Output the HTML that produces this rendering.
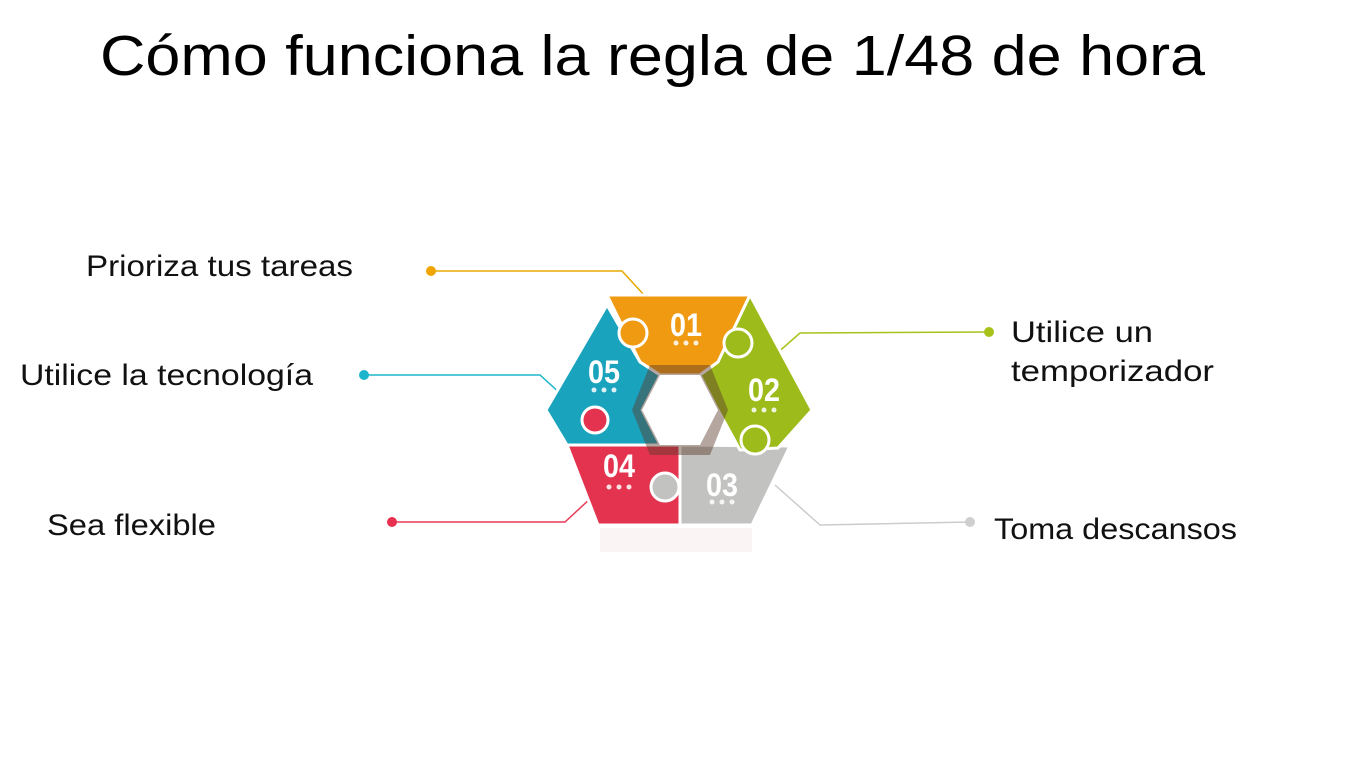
<!DOCTYPE html>
<html><head><meta charset="utf-8"><style>html,body{margin:0;padding:0;background:#fff}svg{display:block}</style></head>
<body>
<svg width="1350" height="759" viewBox="0 0 1350 759" xmlns="http://www.w3.org/2000/svg">
<rect width="1350" height="759" fill="#fff"/>
<text x="100" y="75" font-family="Liberation Sans, Arial, sans-serif" font-size="57" fill="#000" textLength="1105" lengthAdjust="spacingAndGlyphs">Cómo funciona la regla de 1/48 de hora</text>
<g font-family="Liberation Sans, Arial, sans-serif" font-size="30" fill="#111">
<text x="86" y="276" textLength="267" lengthAdjust="spacingAndGlyphs">Prioriza tus tareas</text>
<text x="20" y="385" textLength="293" lengthAdjust="spacingAndGlyphs">Utilice la tecnología</text>
<text x="47" y="535" textLength="169" lengthAdjust="spacingAndGlyphs">Sea flexible</text>
<text x="1011" y="342" textLength="142" lengthAdjust="spacingAndGlyphs">Utilice un</text>
<text x="1011" y="381" textLength="203" lengthAdjust="spacingAndGlyphs">temporizador</text>
<text x="994" y="539" textLength="243" lengthAdjust="spacingAndGlyphs">Toma descansos</text>
</g>
<g fill="none" stroke-width="1.5">
<polyline points="431,271 622,271 645,296" stroke="#e8a800"/>
<polyline points="364,375 540,375 562,395" stroke="#1eb6cc"/>
<polyline points="392,522 565,522 592,497" stroke="#e83a55"/>
<polyline points="989,332 800,333 775,355" stroke="#a8c21a"/>
<polyline points="970,522 820,525 775,485" stroke="#cccccc"/>
</g>
<circle cx="431" cy="271" r="5" fill="#f0a500"/>
<circle cx="364" cy="375" r="5" fill="#1cb5cc"/>
<circle cx="392" cy="522" r="5" fill="#e8304f"/>
<circle cx="989" cy="332" r="5" fill="#a8c21a"/>
<circle cx="970" cy="522" r="5" fill="#cfcfcf"/>
<rect x="600" y="528" width="152" height="24" fill="#f9ecee" opacity="0.6"/>
<g stroke="#fff" stroke-width="3" stroke-linejoin="round">
<polygon points="680,445 790,446 752,525 680,525" fill="#c2c2c0"/>
<polygon points="607,295 750,295 718,362 700,375 660,375 640,362" fill="#f09a12"/>
<polygon points="750,295 812,410 778,448 740,450 718,410 700,375 718,362" fill="#9dbb1a"/>
<polygon points="567,445 642,440 660,445 680,445 680,525 598,525" fill="#e3334f"/>
<polygon points="607,305 640,362 660,375 642,410 660,445 567,445 546,410" fill="#1aa3bd"/>
<circle cx="633" cy="333" r="14" fill="#f09a12"/>
<circle cx="738" cy="343" r="14" fill="#9dbb1a"/>
<circle cx="755" cy="440" r="14" fill="#9dbb1a"/>
<circle cx="595" cy="420" r="13" fill="#e3334f"/>
<circle cx="665" cy="487" r="14" fill="#c2c2c0"/>
</g>
<polygon points="650,365 710,365 728,410 710,455 650,455 632,410" fill="#5a3a2a" opacity="0.45"/>
<polygon points="660,375 700,375 718,410 700,445 660,445 642,410" fill="#fff"/>
<g font-family="Liberation Sans, Arial, sans-serif" font-weight="bold" font-size="32" fill="#fff" text-anchor="middle">
<text x="686" y="336" textLength="32" lengthAdjust="spacingAndGlyphs">01</text>
<text x="604" y="383" textLength="32" lengthAdjust="spacingAndGlyphs">05</text>
<text x="764" y="401" textLength="32" lengthAdjust="spacingAndGlyphs">02</text>
<text x="619" y="477" textLength="32" lengthAdjust="spacingAndGlyphs">04</text>
<text x="722" y="496" textLength="32" lengthAdjust="spacingAndGlyphs">03</text>
</g>
<g fill="#fff" opacity="0.85">
<circle cx="676" cy="343" r="2.5"/><circle cx="686" cy="343" r="2.5"/><circle cx="696" cy="343" r="2.5"/>
<circle cx="594" cy="390" r="2.5"/><circle cx="604" cy="390" r="2.5"/><circle cx="614" cy="390" r="2.5"/>
<circle cx="754" cy="410" r="2.5"/><circle cx="764" cy="410" r="2.5"/><circle cx="774" cy="410" r="2.5"/>
<circle cx="609" cy="487" r="2.5"/><circle cx="619" cy="487" r="2.5"/><circle cx="629" cy="487" r="2.5"/>
<circle cx="712" cy="502" r="2.5"/><circle cx="722" cy="502" r="2.5"/><circle cx="732" cy="502" r="2.5"/>
</g>
</svg>
</body></html>
